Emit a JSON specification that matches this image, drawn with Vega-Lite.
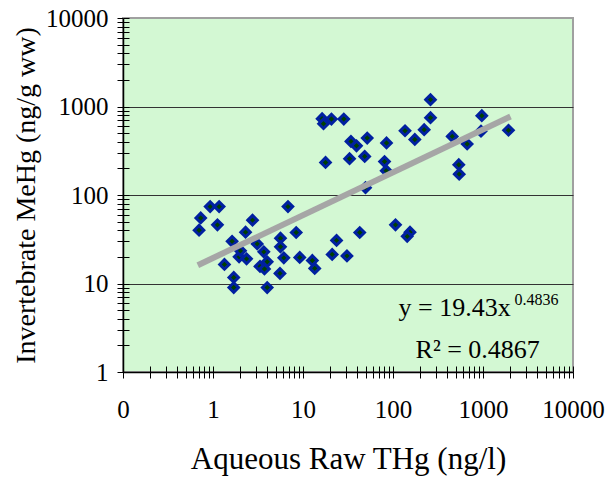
{
  "$schema": "https://vega.github.io/schema/vega-lite/v6.json",
  "width": 450,
  "height": 354,
  "autosize": "none",
  "padding": {"left": 123, "top": 18, "right": 35, "bottom": 109},
  "background": "white",
  "config": {
    "view": {"fill": "#d3f8d3", "stroke": "#a0a0a0", "strokeWidth": 2},
    "font": "Liberation Serif"
  },
  "datasets": {
    "points": [
      {"x": 0.73, "y": 55}, {"x": 0.70, "y": 40}, {"x": 0.93, "y": 74}, {"x": 1.17, "y": 74},
      {"x": 1.12, "y": 46}, {"x": 1.34, "y": 16.4}, {"x": 1.63, "y": 30}, {"x": 1.70, "y": 11.7},
      {"x": 1.70, "y": 9.0}, {"x": 1.95, "y": 20}, {"x": 2.02, "y": 23.4}, {"x": 2.36, "y": 19},
      {"x": 2.30, "y": 38}, {"x": 2.75, "y": 52}, {"x": 3.10, "y": 28}, {"x": 3.67, "y": 22.8},
      {"x": 4.0, "y": 17.6}, {"x": 3.33, "y": 15.6}, {"x": 3.73, "y": 14.6}, {"x": 4.0, "y": 9.0},
      {"x": 5.55, "y": 13}, {"x": 5.62, "y": 32.5}, {"x": 5.62, "y": 26}, {"x": 6.12, "y": 19.5},
      {"x": 6.81, "y": 74}, {"x": 8.4, "y": 37.7}, {"x": 9.2, "y": 19.7}, {"x": 12.7, "y": 18.2},
      {"x": 13.5, "y": 14.8}, {"x": 21.1, "y": 21.3}, {"x": 23.6, "y": 30.7}, {"x": 30.8, "y": 20.5},
      {"x": 42.7, "y": 37.7}, {"x": 49.5, "y": 121}, {"x": 16.3, "y": 728}, {"x": 16.9, "y": 639},
      {"x": 20.7, "y": 722}, {"x": 28.4, "y": 722}, {"x": 17.8, "y": 233}, {"x": 32.9, "y": 257},
      {"x": 34.1, "y": 403}, {"x": 39.3, "y": 360}, {"x": 51.7, "y": 440}, {"x": 48.5, "y": 273},
      {"x": 84.7, "y": 387}, {"x": 80.5, "y": 239}, {"x": 84, "y": 188}, {"x": 106.6, "y": 46},
      {"x": 154.5, "y": 38}, {"x": 143.8, "y": 34.1}, {"x": 136, "y": 532}, {"x": 174.7, "y": 424},
      {"x": 222, "y": 547}, {"x": 261, "y": 1194}, {"x": 261, "y": 747}, {"x": 455, "y": 459},
      {"x": 667, "y": 377}, {"x": 970, "y": 787}, {"x": 950, "y": 526}, {"x": 1920, "y": 539},
      {"x": 538, "y": 220}, {"x": 544, "y": 172}
    ],
    "trend": [{"x": 0.678, "y": 16.1}, {"x": 2022, "y": 771}],
    "eq": [
      {"x": 115, "y": 4.3, "label": "y = 19.43x"},
      {"x": 178, "y": 1.44, "label": "R² = 0.4867"}
    ],
    "sup": [{"x": 2240, "y": 5.73, "label": "0.4836"}]
  },
  "layer": [
    {
      "data": {"name": "points"},
      "mark": {"type": "point", "shape": "diamond", "filled": true, "fill": "#004000", "stroke": "#0020a0", "strokeWidth": 3, "size": 90, "opacity": 1},
      "encoding": {
        "x": {
          "field": "x", "type": "quantitative",
          "scale": {"type": "log", "domain": [0.1, 10000]},
          "axis": {
            "orient": "bottom",
            "values": [0.1,0.2,0.3,0.4,0.5,0.6,0.7,0.8,0.9,1,2,3,4,5,6,7,8,9,10,20,30,40,50,60,70,80,90,100,200,300,400,500,600,700,800,900,1000,2000,3000,4000,5000,6000,7000,8000,9000,10000],
            "labelExpr": "abs(log(datum.value)/LN10 - round(log(datum.value)/LN10)) < 0.001 ? (datum.value < 0.5 ? '0' : format(datum.value, 'd')) : ''",
            "tickSize": 6, "tickColor": "#000", "tickWidth": 1,
            "domainColor": "#000", "domainWidth": 1.5,
            "labelFontSize": 25, "labelFont": "Liberation Serif", "labelColor": "#000",
            "labelPadding": 19, "labelFlush": false, "labelOverlap": false,
            "grid": false,
            "title": "Aqueous Raw THg (ng/l)", "titleFont": "Liberation Serif", "titleFontSize": 31,
            "titleFontWeight": "normal", "titleColor": "#000", "titlePadding": 22
          }
        },
        "y": {
          "field": "y", "type": "quantitative",
          "scale": {"type": "log", "domain": [1, 10000]},
          "axis": {
            "orient": "left",
            "values": [1,2,3,4,5,6,7,8,9,10,20,30,40,50,60,70,80,90,100,200,300,400,500,600,700,800,900,1000,2000,3000,4000,5000,6000,7000,8000,9000,10000],
            "labelExpr": "abs(log(datum.value)/LN10 - round(log(datum.value)/LN10)) < 0.001 ? format(datum.value, 'd') : ''",
            "tickSize": 6, "tickColor": "#000", "tickWidth": 1,
            "domainColor": "#000", "domainWidth": 1.5,
            "labelFontSize": 25, "labelFont": "Liberation Serif", "labelColor": "#000",
            "labelPadding": 9, "labelFlush": false, "labelOverlap": false,
            "grid": false,
            "title": "Invertebrate MeHg (ng/g ww)", "titleFont": "Liberation Serif", "titleFontSize": 28,
            "titleFontWeight": "normal", "titleColor": "#000", "titlePadding": 5
          }
        }
      }
    },
    {
      "data": {"name": "trend"},
      "mark": {"type": "line", "color": "#a6a6a6", "strokeWidth": 6, "strokeCap": "butt"},
      "encoding": {
        "x": {
          "field": "x", "type": "quantitative",
          "axis": {
            "orient": "bottom", "offset": -6,
            "values": [0.1,0.2,0.3,0.4,0.5,0.6,0.7,0.8,0.9,1,2,3,4,5,6,7,8,9,10,20,30,40,50,60,70,80,90,100,200,300,400,500,600,700,800,900,1000,2000,3000,4000,5000,6000,7000,8000,9000,10000],
            "tickSize": 6, "tickColor": "#000", "tickWidth": 1, "ticks": true,
            "labels": false, "domain": false, "grid": false, "title": null
          }
        },
        "y": {
          "field": "y", "type": "quantitative",
          "axis": {
            "orient": "left", "offset": -6,
            "values": [1,2,3,4,5,6,7,8,9,10,20,30,40,50,60,70,80,90,100,200,300,400,500,600,700,800,900,1000,2000,3000,4000,5000,6000,7000,8000,9000,10000],
            "tickSize": 6, "tickColor": "#000", "tickWidth": 1, "ticks": true,
            "labels": false, "domain": false, "grid": false, "title": null
          }
        }
      }
    },
    {
      "data": {"name": "eq"},
      "mark": {"type": "text", "align": "left", "baseline": "alphabetic", "fontSize": 26, "font": "Liberation Serif", "color": "#000"},
      "encoding": {
        "x": {"field": "x", "type": "quantitative", "axis": null},
        "y": {
          "field": "y", "type": "quantitative",
          "axis": {
            "orient": "left", "values": [10, 100, 1000],
            "grid": true, "gridColor": "#333", "gridWidth": 1, "gridOpacity": 1,
            "ticks": false, "labels": false, "domain": false, "title": null
          }
        },
        "text": {"field": "label"}
      }
    },
    {
      "data": {"name": "sup"},
      "mark": {"type": "text", "align": "left", "baseline": "alphabetic", "fontSize": 16, "font": "Liberation Serif", "color": "#000"},
      "encoding": {
        "x": {"field": "x", "type": "quantitative", "axis": null},
        "y": {"field": "y", "type": "quantitative", "axis": null},
        "text": {"field": "label"}
      }
    }
  ],
  "resolve": {"axis": {"x": "independent", "y": "independent"}}
}
